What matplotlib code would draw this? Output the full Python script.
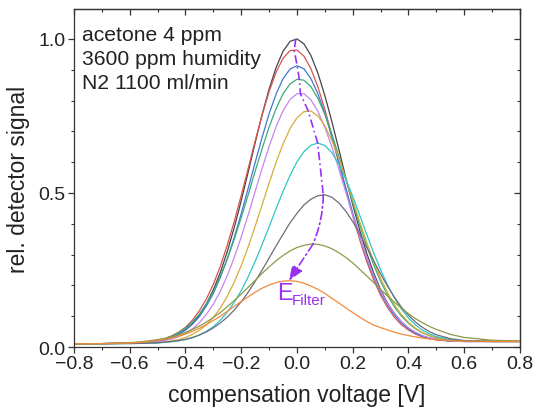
import numpy as np
import matplotlib
matplotlib.use("Agg")
import matplotlib.pyplot as plt

plt.rcParams['font.family'] = ['Liberation Sans', 'DejaVu Sans']

# compensation voltage grid [V]
voltage = [-0.8, -0.7, -0.6, -0.55,
           -0.5, -0.475, -0.45, -0.425, -0.4, -0.375, -0.35, -0.325, -0.3, -0.275,
           -0.25, -0.225, -0.2, -0.175, -0.15, -0.125, -0.1, -0.075, -0.05, -0.025,
           0.0,
           0.025, 0.05, 0.075, 0.1, 0.125, 0.15, 0.175, 0.2, 0.225, 0.25,
           0.275, 0.3, 0.325, 0.35, 0.375, 0.4, 0.425, 0.45, 0.475, 0.5,
           0.55, 0.6, 0.7, 0.8]

sig_black = [0.010, 0.011, 0.012, 0.014,
             0.019, 0.023, 0.031, 0.041, 0.056, 0.076, 0.104, 0.140, 0.186, 0.242,
             0.310, 0.388, 0.475, 0.568, 0.663, 0.755, 0.837, 0.907, 0.960, 0.992,
             1.000,
             0.984, 0.946, 0.889, 0.816, 0.732, 0.642, 0.550, 0.462, 0.379, 0.305,
             0.241, 0.186, 0.142, 0.108, 0.081, 0.061, 0.046, 0.036, 0.029, 0.025,
             0.020, 0.018, 0.018, 0.018]
sig_red = [0.010, 0.011, 0.012, 0.015,
           0.021, 0.027, 0.036, 0.048, 0.064, 0.087, 0.118, 0.156, 0.204, 0.262,
           0.331, 0.408, 0.492, 0.580, 0.669, 0.753, 0.829, 0.892, 0.937, 0.962,
           0.964,
           0.944, 0.903, 0.844, 0.771, 0.687, 0.599, 0.511, 0.426, 0.348, 0.278,
           0.218, 0.168, 0.128, 0.096, 0.072, 0.055, 0.042, 0.033, 0.027, 0.023,
           0.019, 0.018, 0.018, 0.018]
sig_blue = [0.010, 0.011, 0.012, 0.014,
            0.019, 0.024, 0.031, 0.041, 0.055, 0.074, 0.099, 0.133, 0.174, 0.226,
            0.286, 0.356, 0.433, 0.515, 0.599, 0.681, 0.757, 0.821, 0.871, 0.902,
            0.913,
            0.903, 0.871, 0.822, 0.758, 0.682, 0.600, 0.517, 0.435, 0.358, 0.289,
            0.228, 0.177, 0.136, 0.103, 0.078, 0.059, 0.045, 0.035, 0.029, 0.024,
            0.020, 0.018, 0.018, 0.018]
sig_green = [0.010, 0.011, 0.013, 0.015,
             0.022, 0.027, 0.035, 0.046, 0.061, 0.081, 0.107, 0.140, 0.180, 0.229,
             0.286, 0.350, 0.420, 0.494, 0.571, 0.644, 0.714, 0.774, 0.822, 0.854,
             0.869,
             0.866, 0.845, 0.807, 0.755, 0.691, 0.620, 0.545, 0.469, 0.396, 0.328,
             0.267, 0.213, 0.168, 0.130, 0.100, 0.077, 0.059, 0.046, 0.037, 0.030,
             0.022, 0.019, 0.018, 0.018]
sig_violet = [0.010, 0.011, 0.012, 0.013,
              0.017, 0.021, 0.026, 0.033, 0.044, 0.059, 0.079, 0.106, 0.139, 0.181,
              0.232, 0.291, 0.357, 0.429, 0.505, 0.580, 0.651, 0.715, 0.767, 0.803,
              0.822,
              0.822, 0.802, 0.765, 0.713, 0.650, 0.578, 0.503, 0.428, 0.356, 0.291,
              0.232, 0.182, 0.141, 0.108, 0.082, 0.062, 0.048, 0.037, 0.030, 0.025,
              0.020, 0.018, 0.018, 0.018]
sig_gold = [0.010, 0.011, 0.011, 0.012,
            0.014, 0.016, 0.020, 0.024, 0.031, 0.041, 0.054, 0.072, 0.096, 0.126,
            0.165, 0.211, 0.264, 0.325, 0.392, 0.462, 0.532, 0.599, 0.659, 0.709,
            0.744,
            0.764, 0.766, 0.750, 0.718, 0.671, 0.613, 0.547, 0.477, 0.407, 0.340,
            0.278, 0.223, 0.176, 0.137, 0.105, 0.080, 0.061, 0.047, 0.037, 0.030,
            0.022, 0.019, 0.018, 0.018]
sig_cyan = [0.010, 0.011, 0.011, 0.012,
            0.013, 0.015, 0.017, 0.020, 0.024, 0.030, 0.039, 0.051, 0.066, 0.087,
            0.113, 0.145, 0.183, 0.228, 0.278, 0.333, 0.390, 0.449, 0.505, 0.557,
            0.601,
            0.634, 0.655, 0.662, 0.654, 0.631, 0.594, 0.545, 0.489, 0.428, 0.366,
            0.306, 0.251, 0.201, 0.159, 0.123, 0.094, 0.072, 0.055, 0.043, 0.034,
            0.024, 0.020, 0.018, 0.018]
sig_gray = [0.010, 0.011, 0.012, 0.012,
            0.014, 0.016, 0.018, 0.021, 0.025, 0.031, 0.039, 0.049, 0.062, 0.078,
            0.097, 0.120, 0.147, 0.178, 0.213, 0.250, 0.289, 0.328, 0.366, 0.403,
            0.434,
            0.461, 0.480, 0.491, 0.494, 0.486, 0.468, 0.441, 0.407, 0.367, 0.324,
            0.280, 0.237, 0.197, 0.161, 0.129, 0.103, 0.081, 0.064, 0.050, 0.040,
            0.027, 0.021, 0.018, 0.018]
sig_olive = [0.010, 0.011, 0.014, 0.018,
             0.024, 0.028, 0.033, 0.039, 0.047, 0.057, 0.068, 0.081, 0.096, 0.112,
             0.131, 0.151, 0.172, 0.194, 0.216, 0.239, 0.260, 0.280, 0.297, 0.312,
             0.323,
             0.330, 0.334, 0.333, 0.328, 0.319, 0.306, 0.291, 0.273, 0.252, 0.231,
             0.209, 0.187, 0.165, 0.145, 0.126, 0.108, 0.092, 0.079, 0.067, 0.057,
             0.041, 0.031, 0.022, 0.019]
sig_orange = [0.010, 0.011, 0.013, 0.016,
              0.021, 0.025, 0.029, 0.035, 0.042, 0.051, 0.061, 0.073, 0.086, 0.100,
              0.116, 0.132, 0.148, 0.163, 0.178, 0.191, 0.201, 0.209, 0.214, 0.215,
              0.213,
              0.207, 0.198, 0.187, 0.174, 0.158, 0.143, 0.127, 0.112, 0.097, 0.083,
              0.071, 0.063, 0.055, 0.048, 0.042, 0.037, 0.033, 0.029, 0.026, 0.024,
              0.021, 0.019, 0.018, 0.018]

curves = [sig_black, sig_red, sig_blue, sig_green, sig_violet,
          sig_gold, sig_cyan, sig_gray, sig_olive, sig_orange]
colors = ['#454545', '#d9534f', '#3f78d0', '#3fa87c', '#c487ec',
          '#d6ac3a', '#2ec6c6', '#6e6c7a', '#8d9a45', '#f08a3c']

info_lines = ["acetone 4 ppm", "3600 ppm humidity", "N2 1100 ml/min"]
xticks = [-0.8, -0.6, -0.4, -0.2, 0.0, 0.2, 0.4, 0.6, 0.8]
yticks = [0.0, 0.5, 1.0]

purple = '#9a30f0'
tc = '#222222'
dashdot = (0, (5, 2, 1, 2))

fig = plt.figure(figsize=(5.37, 4.14), dpi=100)
ax = fig.add_axes([0.1378, 0.1594, 0.9683 - 0.1378, 0.9758 - 0.1594])

x = np.array(voltage)
for ys, c in zip(curves, colors):
    ax.plot(x, ys, color=c, lw=0.9, solid_joinstyle='round')

# E_Filter arrow through the maxima of the curves (parabolic peak refinement)
px, py = [], []
for ys in curves:
    y = np.array(ys)
    i = int(np.argmax(y))
    h = x[i + 1] - x[i]
    den = y[i - 1] - 2 * y[i] + y[i + 1]
    off = 0.5 * h * (y[i - 1] - y[i + 1]) / den if den != 0 else 0.0
    px.append(x[i] + off)
    py.append(y[i])
ax.plot(px[:-2], py[:-2], color=purple, lw=1.2, ls=dashdot)
ax.annotate('', xy=(px[-2], py[-2]), xytext=(px[-3], py[-3]),
            arrowprops=dict(arrowstyle='-', color=purple, lw=1.2, ls=dashdot,
                            shrinkA=0, shrinkB=0,
                            connectionstyle='arc3,rad=-0.1'))
ax.annotate('', xy=(px[-1], py[-1]), xytext=(px[-2], py[-2]),
            arrowprops=dict(arrowstyle='-|>,head_length=0.9,head_width=0.35',
                            color=purple, lw=1.2, ls=dashdot,
                            shrinkA=0, shrinkB=0))

ax.text(-0.07, 0.155, 'E', color=purple, fontsize=17, va='baseline', ha='left')
ax.text(-0.017, 0.140, 'Filter', color=purple, fontsize=11, va='baseline', ha='left')

for s, yy in zip(info_lines, [0.998, 0.918, 0.840]):
    ax.text(-0.772, yy, s, fontsize=15.2, color=tc, va='baseline', ha='left')

ax.set_xlim(-0.8, 0.8)
ax.set_ylim(0.0, 1.097)
ax.set_xticks(xticks)
ax.set_xticklabels([f"{v:.1f}".replace('-', '\u2212') for v in xticks])
ax.set_yticks(yticks)
ax.set_yticklabels([f"{v:.1f}" for v in yticks])
ax.set_xticks(np.arange(-0.8, 0.81, 0.1), minor=True)
ax.set_yticks(np.arange(0.0, 1.05, 0.1), minor=True)
ax.tick_params(which='major', direction='out', length=4, width=0.9,
               labelsize=14, colors='#333333', labelcolor=tc, pad=2)
ax.tick_params(which='minor', direction='out', length=2.5, width=0.8, colors='#333333')

# mirrored inward ticks on top / right
sx = ax.secondary_xaxis('top')
sx.set_xticks(xticks)
sx.set_xticks(np.arange(-0.8, 0.81, 0.1), minor=True)
sx.tick_params(which='both', direction='in', labeltop=False, colors='#333333')
sx.tick_params(which='major', length=4, width=0.9)
sx.tick_params(which='minor', length=2.5, width=0.8)
sy = ax.secondary_yaxis('right')
sy.set_yticks(yticks)
sy.set_yticks(np.arange(0.0, 1.05, 0.1), minor=True)
sy.tick_params(which='both', direction='in', labelright=False, colors='#333333')
sy.tick_params(which='major', length=4, width=0.9)
sy.tick_params(which='minor', length=2.5, width=0.8)
for sp in list(ax.spines.values()) + [sx.spines['top'], sy.spines['right']]:
    sp.set_color('#333333')
    sp.set_linewidth(0.9)

ax.set_xlabel('compensation voltage [V]', fontsize=16.5, color=tc, labelpad=8)
ax.set_ylabel('rel. detector signal', fontsize=16.5, color=tc, labelpad=6)

fig.savefig('out.png', dpi=100)
